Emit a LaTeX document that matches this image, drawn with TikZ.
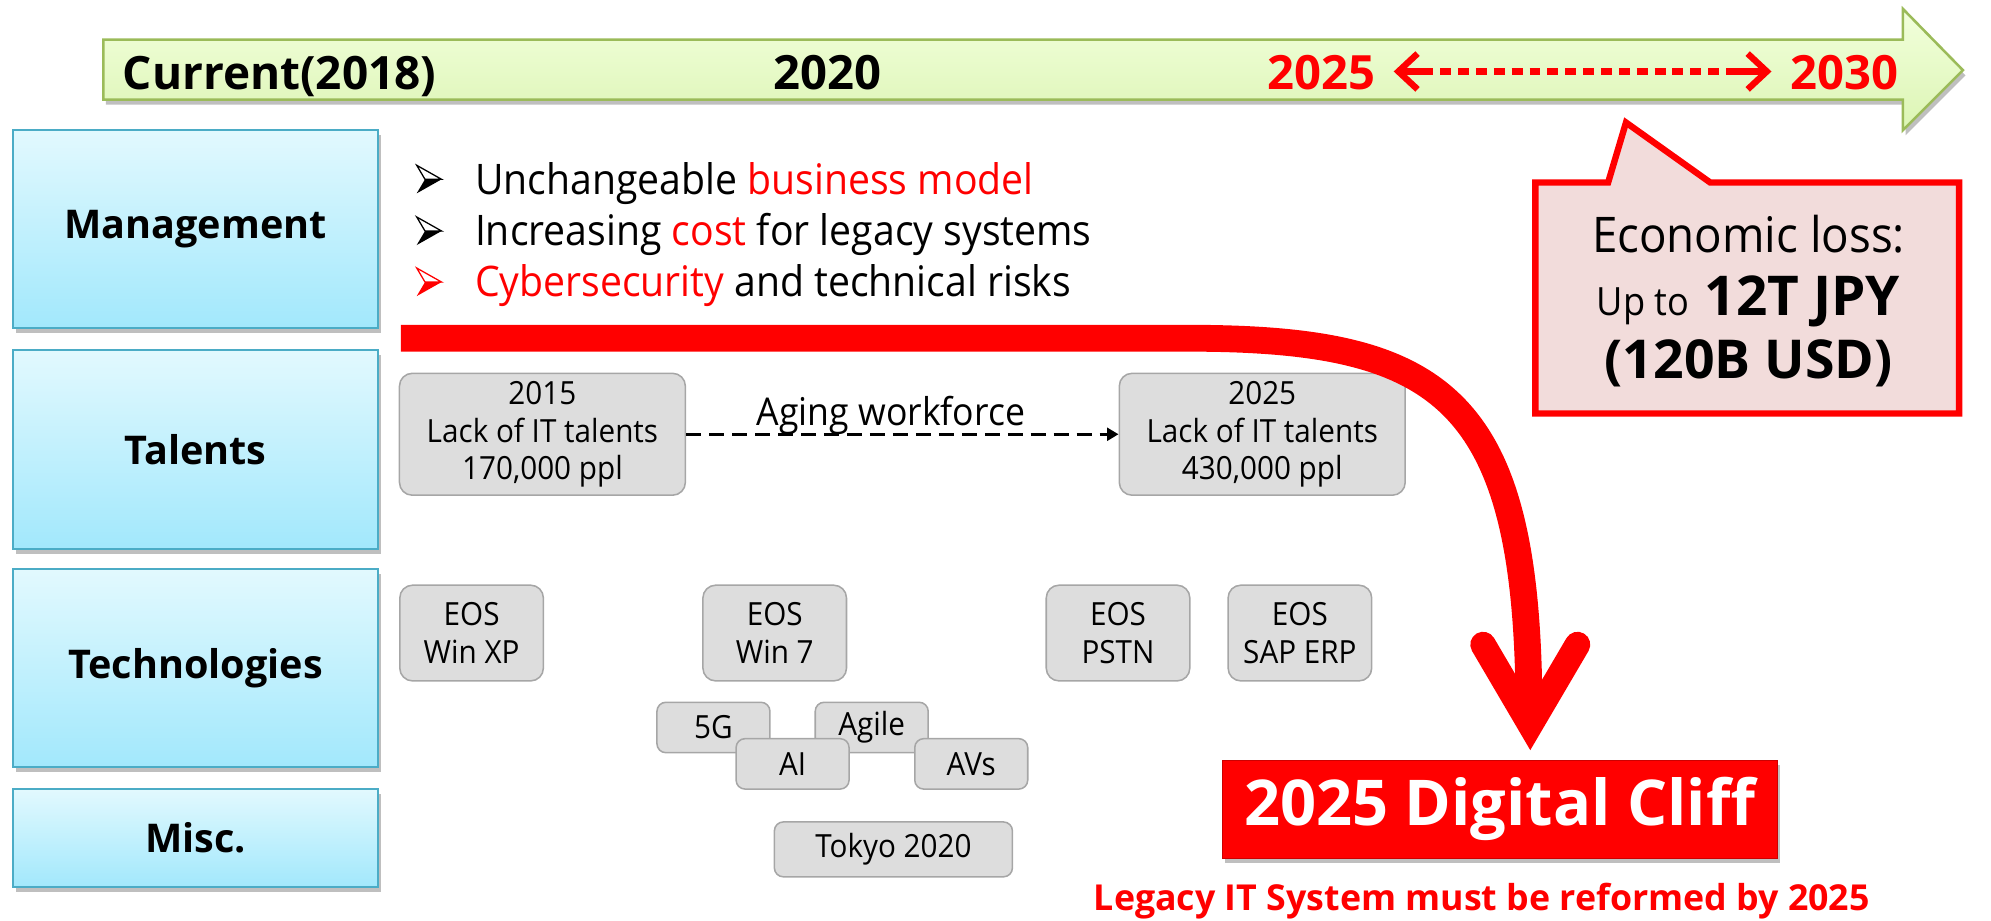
\documentclass[tikz,border=0pt]{standalone}
\usepackage{fontspec}
\setmainfont{Open Sans}[FakeStretch=0.93]
\newfontfamily\bfopen{Open Sans}
\usetikzlibrary{arrows.meta,shadows}
\definecolor{tlA}{HTML}{F2FFDC}
\definecolor{tlB}{HTML}{DCF5B4}
\definecolor{tlborder}{HTML}{9BBB59}
\definecolor{catA}{HTML}{E2F9FE}
\definecolor{catB}{HTML}{A2E8FC}
\definecolor{catborder}{HTML}{4BACC6}
\definecolor{boxgray}{HTML}{DDDDDD}
\definecolor{boxborder}{HTML}{A6A6A6}
\definecolor{callfill}{HTML}{F2DCDB}
\definecolor{pred}{HTML}{FF0000}
\newcommand{\fsz}[1]{\fontsize{#1}{#1}\selectfont}
\newcommand{\bsz}[1]{\bfopen\bfseries\fontsize{#1}{#1}\selectfont}
\begin{document}
\begin{tikzpicture}[x=1pt,y=-1pt,
  shadowed/.style={drop shadow={shadow xshift=2pt,shadow yshift=-4pt,fill=black,opacity=0.25}},
  cat/.style={draw=catborder,line width=1.5pt,top color=catA,bottom color=catB,
    minimum width=286pt,inner sep=0pt,font=\bsz{31},shadowed},
  grayb/.style={draw=boxborder,fill=boxgray,line width=1.2pt,rounded corners=10pt,
    inner sep=0pt,align=center,font=\fontsize{25}{29.5}\selectfont},
  smallb/.style={grayb,rounded corners=7pt,minimum width=88.5pt,minimum height=39.5pt},
  eosb/.style={grayb,minimum width=112.5pt,minimum height=75pt},
  talb/.style={grayb,minimum width=224pt,minimum height=95.5pt},
  tltext/.style={anchor=base,inner sep=0pt,font=\bsz{37}},
  bultext/.style={anchor=base west,inner sep=0pt,font=\fsz{33}},
  calltext/.style={anchor=base,inner sep=0pt},
  redarrow/.style={pred,line width=5pt},
  barb/.style={Straight Barb[length=16pt,width=29pt]},
  arrowbullet/.pic={
    \fill (6.5,11) -- (19.5,11) -- (0,22) -- cycle;
    \draw[line width=1pt,line join=miter] (0,0) -- (19.5,11) -- (6.5,11) -- cycle;
  },
]
\useasboundingbox (0,0) rectangle (1560,720.85);

% timeline arrow
\draw[draw=tlborder,line width=2pt,top color=tlA,bottom color=tlB,shadowed]
  (81,31) -- (1491,31) -- (1491,7) -- (1538,55) -- (1491,102) -- (1491,78) -- (81,78) -- cycle;
\node[tltext,anchor=base west,font=\bsz{36}] (cur) at (96,70) {Current(2018)};
\node[tltext] (y2020) at (648,70) {2020};
\node[tltext,text=pred] (y2025) at (1035.5,70) {2025};
\node[tltext,text=pred] (y2030) at (1445,70) {2030};
\coordinate (dl) at (1092,56);
\coordinate (dl2) at (1123,56);
\coordinate (dr2) at (1357,56);
\coordinate (dr) at (1388,56);
\draw[redarrow,{Straight Barb[length=15pt,width=28pt]}-] (dl) -- (dl2);
\draw[redarrow,dash pattern=on 8.6pt off 5.4pt,dash phase=8.6pt] (dl2) -- (dr2);
\draw[redarrow,-{Straight Barb[length=15pt,width=28pt]}] (dr2) -- (dr);

% callout
\draw[draw=pred,fill=callfill,line width=5pt,line join=miter]
  (1203,143) -- (1260,143) -- (1274,96) -- (1340,143) -- (1535,143) -- (1535,324) -- (1203,324) -- cycle;
\node[calltext,font=\fsz{38.5}] (eco) at (1370,198) {Economic loss:};
\node[calltext] (upto) at (1370,247) {{\fsz{30.5}Up to}\hspace{12pt}{\bsz{43}12T JPY}};
\node[calltext,font=\bsz{42}] (usd) at (1370,296.5) {(120B USD)};

% category boxes
\node[cat,minimum height=155pt] (mgmt) at (153.2,179.5) {Management};
\node[cat,minimum height=156pt] (tal) at (153.2,352) {Talents};
\node[cat,minimum height=155pt] (tech) at (153.2,523.5) {Technologies};
\node[cat,minimum height=77pt] (misc) at (153.2,656.5) {Misc.};

% bullets
\pic[black] at (326.5,129.5) {arrowbullet};
\pic[black] at (326.5,170) {arrowbullet};
\pic[pred] at (326.5,210) {arrowbullet};
\node[bultext] (l1) at (372,152.3) {Unchangeable {\color{pred}business model}};
\node[bultext] (l2) at (372,192.5) {Increasing {\color{pred}cost} for legacy systems};
\node[bultext] (l3) at (372,232.5) {{\color{pred}Cybersecurity} and technical risks};

% talents
\node[talb] (t15) at (425,340.25) {2015\\Lack of IT talents\\170,000 ppl};
\node[talb] (t25) at (989,340.25) {2025\\Lack of IT talents\\430,000 ppl};
\draw[line width=2.5pt,dash pattern=on 12pt off 6pt,-{Triangle[length=9pt,width=10pt]}] (t15.east) -- (t25.west);
\node[anchor=base,inner sep=0pt,font=\fsz{30}] (aging) at (698,333) {Aging workforce};

% technologies
\node[eosb] (xp) at (369.5,496) {EOS\\Win XP};
\node[eosb] (w7) at (607,496) {EOS\\Win 7};
\node[eosb] (pstn) at (876,496) {EOS\\PSTN};
\node[eosb] (sap) at (1018.5,496) {EOS\\SAP ERP};
\node[smallb] (g5) at (559,570) {5G};
\node[smallb] (agile) at (683,570) {Agile};
\node[smallb] (ai) at (621,598.5) {AI};
\node[smallb] (avs) at (761,598.5) {AVs};
\node[smallb,minimum width=186.5pt,minimum height=43pt] (tokyo) at (700,665.5) {Tokyo 2020};

% big curved arrow
\coordinate (cs) at (314,265);
\coordinate (cm) at (930,265);
\coordinate (ce) at (1198,560);
\draw[pred,line width=21pt] (cs) -- (cm) .. controls (1130,265) and (1198,310) .. (ce);
\coordinate (hl) at (1162,505);
\coordinate (ht) at (1199,568);
\coordinate (hr) at (1236,505);
\draw[pred,line width=20pt,line cap=round,line join=miter] (hl) -- (ht) -- (hr);

% digital cliff
\node[fill=pred,draw=pred!80!black,line width=0.8pt,minimum width=435pt,minimum height=77pt,
  text=white,font=\bsz{49.5},shadowed] (cliff) at (1175,634) {2025 Digital Cliff};
\node[anchor=base,inner sep=0pt,text=pred,font=\bsz{28}] (legacy) at (1161,713) {Legacy IT System must be reformed by 2025};
\end{tikzpicture}
\end{document}
